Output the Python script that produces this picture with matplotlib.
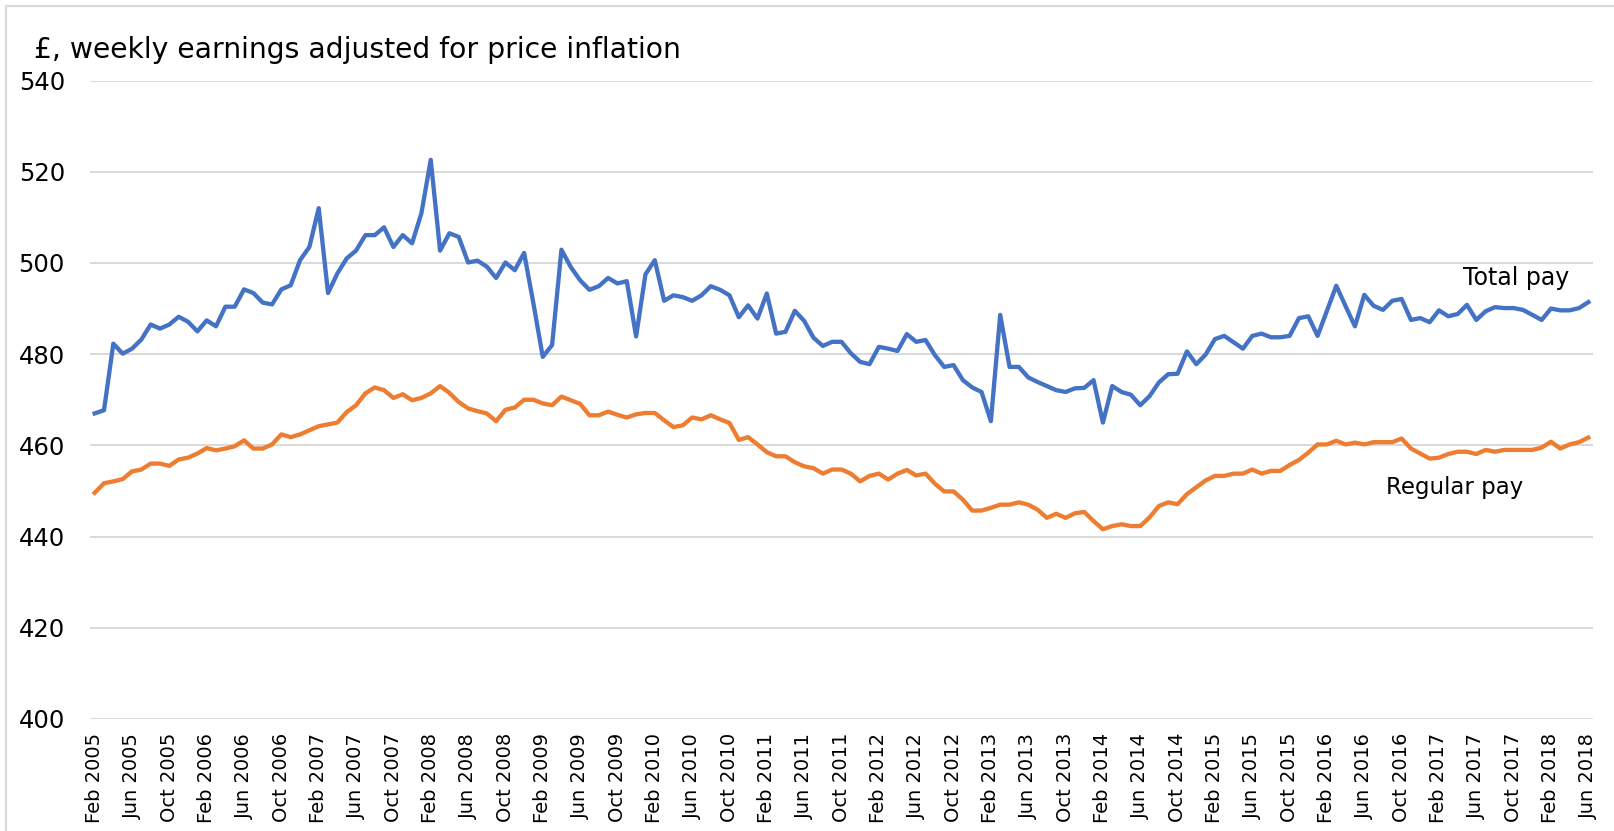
import numpy as np
import pandas as pd
import matplotlib
matplotlib.use("Agg")
import matplotlib.pyplot as plt
from matplotlib.lines import Line2D

# ---------- data (monthly, Feb 2005 - Jun 2018) ----------
start_month = "2005-02-01"
end_month = "2018-06-01"

total_pay = [
    467.0, 467.7, 482.3, 480.1, 481.2, 483.2, 486.5, 485.6, 486.5, 488.2,
    487.1, 485.0, 487.4, 486.1, 490.4, 490.4, 494.2, 493.4, 491.3, 490.9,
    494.2, 495.1, 500.6, 503.5, 512.0, 493.4, 497.7, 501.0, 502.7, 506.1,
    506.1, 507.8, 503.5, 506.1, 504.3, 510.9, 522.6, 502.7, 506.5, 505.7,
    500.1, 500.5, 499.2, 496.7, 500.1, 498.4, 502.2, 491.1, 479.4, 482.0,
    502.9, 499.1, 496.2, 494.1, 494.9, 496.7, 495.5, 496.0, 483.9, 497.5,
    500.6, 491.7, 492.9, 492.5, 491.7, 492.9, 494.9, 494.1, 492.9, 488.1,
    490.7, 487.8, 493.3, 484.5, 484.9, 489.5, 487.3, 483.6, 481.8, 482.7,
    482.7, 480.2, 478.3, 477.8, 481.6, 481.2, 480.7, 484.4, 482.7, 483.1,
    479.8, 477.2, 477.6, 474.3, 472.7, 471.7, 465.3, 488.6, 477.2, 477.2,
    474.9, 473.9, 473.0, 472.1, 471.7, 472.5, 472.6, 474.3, 465.0, 473.0,
    471.7, 471.1, 468.8, 470.8, 473.8, 475.6, 475.7, 480.6, 477.8, 479.9,
    483.3, 484.0, 482.6, 481.2, 484.0, 484.5, 483.7, 483.7, 484.0, 487.9,
    488.3, 484.0, 489.5, 495.0, 490.5, 486.1, 493.0, 490.6, 489.7, 491.7,
    492.1, 487.5, 487.9, 487.0, 489.6, 488.3, 488.8, 490.8, 487.5, 489.4,
    490.3, 490.1, 490.1, 489.7, 488.6, 487.5, 490.0, 489.6, 489.6, 490.1,
    491.4,
]

regular_pay = [
    449.6, 451.7, 452.1, 452.6, 454.3, 454.7, 456.0, 456.0, 455.5, 456.9,
    457.3, 458.2, 459.4, 458.9, 459.3, 459.8, 461.1, 459.3, 459.3, 460.2,
    462.4, 461.8, 462.4, 463.3, 464.2, 464.6, 465.0, 467.3, 468.8, 471.4,
    472.7, 472.1, 470.4, 471.2, 469.9, 470.4, 471.4, 473.0, 471.5, 469.5,
    468.1, 467.5, 467.0, 465.3, 467.8, 468.3, 470.0, 470.0, 469.2, 468.8,
    470.7, 469.9, 469.1, 466.6, 466.6, 467.4, 466.7, 466.1, 466.8, 467.1,
    467.1, 465.5, 464.0, 464.4, 466.1, 465.7, 466.6, 465.7, 464.9, 461.2,
    461.8, 460.2, 458.5, 457.6, 457.6, 456.3, 455.4, 455.0, 453.8, 454.7,
    454.7, 453.8, 452.1, 453.3, 453.8, 452.5, 453.8, 454.6, 453.4, 453.8,
    451.6, 449.9, 449.9, 448.1, 445.7, 445.7, 446.3, 447.0, 447.0, 447.5,
    447.0, 445.9, 444.1, 445.0, 444.1, 445.1, 445.4, 443.4, 441.6, 442.3,
    442.7, 442.3, 442.3, 444.2, 446.7, 447.5, 447.1, 449.3, 450.8, 452.3,
    453.3, 453.3, 453.8, 453.8, 454.7, 453.8, 454.4, 454.4, 455.7, 456.8,
    458.4, 460.2, 460.2, 461.0, 460.2, 460.6, 460.2, 460.7, 460.7, 460.7,
    461.5, 459.3, 458.2, 457.1, 457.3, 458.1, 458.6, 458.6, 458.1, 459.0,
    458.6, 459.0, 459.0, 459.0, 459.0, 459.5, 460.8, 459.3, 460.2, 460.7,
    461.7,
]

y_ticks = [400, 420, 440, 460, 480, 500, 520, 540]
label_every = 4

# ---------- styling ----------
BLUE = "#4472C4"
ORANGE = "#ED7D31"
GRID = "#D9D9D9"
TEXT = "#000000"

months = pd.date_range(start_month, end_month, freq="MS")
x = np.arange(len(months))
tick_pos = x[::label_every]
tick_labels = [d.strftime("%b %Y") for d in months[::label_every]]

W, H = 1614, 831
fig = plt.figure(figsize=(W / 100, H / 100), dpi=100)
ax = fig.add_axes([90 / W, 1 - 719 / H, (1593 - 90) / W, (719 - 80.5) / H])

ax.plot(x, total_pay, color=BLUE, lw=3.1, solid_joinstyle="round", zorder=3)
ax.plot(x, regular_pay, color=ORANGE, lw=3.1, solid_joinstyle="round", zorder=3)

ax.set_xlim(-0.5, len(months) - 0.5)
ax.set_ylim(400, 540)
ax.set_yticks(y_ticks)
ax.set_xticks(tick_pos)
ax.set_xticklabels(tick_labels, rotation=90, fontsize=14, color=TEXT)
ax.tick_params(axis="x", length=0, pad=10)
ax.tick_params(axis="y", length=0, pad=18, labelsize=17.5, labelcolor=TEXT)

ax.grid(axis="y", color=GRID, lw=1.4, zorder=0)
ax.grid(axis="x", visible=False)
for s in ax.spines.values():
    s.set_visible(False)

ax.text(152.3, 496.7, "Total pay", fontsize=17, ha="center", va="center", color=TEXT)
ax.text(145.7, 450.7, "Regular pay", fontsize=16.5, ha="center", va="center", color=TEXT)

fig.text(34 / W, 1 - 50 / H, "£, weekly earnings adjusted for price inflation",
         fontsize=20.3, ha="left", va="center", color=TEXT)

# light chart-area border (left and top edges visible in the original)
fig.add_artist(Line2D([6 / W, 6 / W], [0, 1 - 6 / H], color=GRID, lw=1.5))
fig.add_artist(Line2D([6 / W, 1], [1 - 6 / H, 1 - 6 / H], color=GRID, lw=1.5))

fig.savefig("out.png", dpi=100)
